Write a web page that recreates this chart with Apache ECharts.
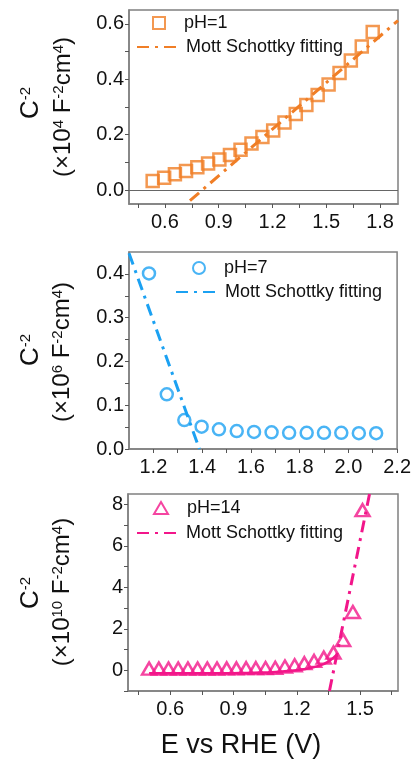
<!DOCTYPE html>
<html><head><meta charset="utf-8">
<script src="https://cdn.jsdelivr.net/npm/echarts@6/dist/echarts.min.js"></script>
<style>html,body{margin:0;padding:0;background:#fff}#c{width:414px;height:769px}</style>
</head><body><div id="c"></div>
<script>
// ---- data ----
const pH1X = [0.532,0.596,0.656,0.718,0.781,0.841,0.904,0.963,1.022,1.083,1.144,1.204,1.267,1.330,1.389,1.452,1.513,1.574,1.637,1.698,1.759];
const pH1Y = [0.033,0.045,0.057,0.069,0.083,0.096,0.111,0.127,0.146,0.168,0.192,0.215,0.244,0.275,0.307,0.343,0.381,0.423,0.468,0.518,0.571];
const fit1X = [0.74, 1.90];
const fit1Y = [-0.038, 0.612];

const pH7X = [1.182,1.255,1.327,1.398,1.469,1.542,1.613,1.685,1.757,1.829,1.900,1.971,2.043,2.114];
const pH7Y = [0.401,0.125,0.066,0.051,0.045,0.041,0.039,0.038,0.037,0.037,0.037,0.037,0.036,0.036];
const fit7X = [1.10, 1.389];
const fit7Y = [0.447, 0.0];

const pH14X = [0.500,0.546,0.592,0.638,0.684,0.730,0.776,0.822,0.868,0.914,0.960,1.006,1.052,1.098,1.144,1.190,1.236,1.282,1.328,1.374,1.420,1.466,1.512];
const pH14Y = [0.08,0.08,0.08,0.08,0.08,0.08,0.08,0.08,0.09,0.09,0.10,0.10,0.11,0.12,0.18,0.24,0.34,0.45,0.61,0.85,1.46,2.81,7.72];
const curve14X = [0.50,0.60,0.70,0.80,0.90,1.00,1.10,1.20,1.25,1.30,1.35,1.39];
const curve14Y = [-0.15,-0.15,-0.15,-0.15,-0.14,-0.12,-0.08,0.00,0.08,0.20,0.42,0.75];
const fit14X = [1.355, 1.545];
const fit14Y = [-1.0, 8.5];

const x1Labels = [0.6,0.9,1.2,1.5,1.8];
const x1Ticks = [0.45,0.6,0.75,0.9,1.05,1.2,1.35,1.5,1.65,1.8];
const y1Labels = [0,0.2,0.4,0.6];
const y1Ticks = [0,0.1,0.2,0.3,0.4,0.5,0.6];
const x2Labels = [1.2,1.4,1.6,1.8,2.0,2.2];
const x2Ticks = [1.2,1.3,1.4,1.5,1.6,1.7,1.8,1.9,2.0,2.1,2.2];
const y2Labels = [0,0.1,0.2,0.3,0.4];
const y2Ticks = [0,0.05,0.1,0.15,0.2,0.25,0.3,0.35,0.4];
const x3Labels = [0.6,0.9,1.2,1.5];
const x3Ticks = [0.45,0.6,0.75,0.9,1.05,1.2,1.35,1.5,1.65];
const y3Labels = [0,2,4,6,8];
const y3Ticks = [-1,0,1,2,3,4,5,6,7,8];

const zip = (a,b) => a.map((v,i)=>[v,b[i]]);
const ORANGE = '#F07E26', BLUE = '#1BA1F2', PINK = '#F2168A';
const FONT = 'Liberation Sans, Arial, sans-serif';
const AX = '#808080';
const FIT = 'Mott Schottky fitting';
const ZW = '\u200b';

function xAxis(g, min, max, labels, ticks, dec) {
  return { type:'value', gridIndex:g, min, max, position:'bottom',
    axisLine:{show:true, onZero:false, lineStyle:{color:AX, width:1.5}},
    axisTick:{show:true, customValues:ticks, length:4, lineStyle:{color:'#555'}},
    axisLabel:{customValues:labels, formatter:v=>v.toFixed(dec), fontSize:20, color:'#111', fontFamily:FONT, margin:8},
    splitLine:{show:false} };
}
function yAxis(g, min, max, labels, ticks, dec) {
  return { type:'value', gridIndex:g, min, max,
    axisLine:{show:true, onZero:false, lineStyle:{color:AX, width:1.5}},
    axisTick:{show:true, customValues:ticks, length:4, lineStyle:{color:'#555'}},
    axisLabel:{customValues:labels, formatter:v=>v.toFixed(dec), fontSize:20, color:'#111', fontFamily:FONT, margin:5},
    splitLine:{show:false} };
}
function fitLine(name, x, y, col, xi) {
  return { name, type:'line', xAxisIndex:xi, yAxisIndex:xi, data:zip(x,y), symbol:'none', silent:true,
    lineStyle:{color:col, width:3, type:[12,6,3,6]}, itemStyle:{color:col}, z:3 };
}
function symLegend(left, top, name, w, h) {
  return { left, top, orient:'vertical', itemWidth:w, itemHeight:h, data:[name],
    selectedMode:false,
    textStyle:{fontSize:18, color:'#111', fontFamily:FONT, padding:[0,0,0,14]} };
}
function lineLegend(left, top, name) {
  return { left, top, orient:'vertical', itemWidth:44, itemHeight:12,
    data:[{name, itemStyle:{opacity:0}}],
    formatter:n=>n.replace(/\u200b/g,''), selectedMode:false,
    textStyle:{fontSize:18, color:'#111', fontFamily:FONT} };
}
function ylab(x, y, txt, size) {
  return { type:'text', x, y, rotation:Math.PI/2,
    style:{ text:txt, align:'center', verticalAlign:'middle', font:size+'px '+FONT, fill:'#111',
      rich:{ s:{fontSize:15, fontFamily:FONT, verticalAlign:'top', fill:'#111'}, n:{fontSize:size+2, fontFamily:FONT, fill:'#111'} } } };
}

const option = {
  animation:false,
  grid:[
    {left:129, top:10, width:269, height:194, show:true, borderColor:AX, borderWidth:1.5},
    {left:129, top:252, width:269, height:197, show:true, borderColor:AX, borderWidth:1.5},
    {left:128, top:494, width:270, height:197, show:true, borderColor:AX, borderWidth:1.5}
  ],
  xAxis:[ xAxis(0,0.4,1.9,x1Labels,x1Ticks,1), xAxis(1,1.1,2.2,x2Labels,x2Ticks,1), xAxis(2,0.4,1.68,x3Labels,x3Ticks,1) ],
  yAxis:[ yAxis(0,-0.05,0.65,y1Labels,y1Ticks,1), yAxis(1,0,0.45,y2Labels,y2Ticks,1), yAxis(2,-1,8.5,y3Labels,y3Ticks,0) ],
  legend:[
    symLegend(147, 9, 'pH=1', 12, 12),
    lineLegend(131, 33, FIT),
    symLegend(187, 254, 'pH=7', 12, 12),
    lineLegend(170, 278, FIT+ZW),
    symLegend(148, 494, 'pH=14', 14, 12),
    lineLegend(131, 519, FIT+ZW+ZW)
  ],
  series:[
    { name:'pH=1', type:'scatter', xAxisIndex:0, yAxisIndex:0, data:zip(pH1X,pH1Y), symbol:'rect', symbolSize:12,
      itemStyle:{color:'rgba(255,255,255,0)', borderColor:ORANGE, borderWidth:2.5}, z:4,
      markLine:{silent:true, symbol:'none', label:{show:false}, lineStyle:{color:'#666', width:1, type:'solid'}, data:[{yAxis:0}]} },
    fitLine(FIT, fit1X, fit1Y, ORANGE, 0),
    { name:'pH=7', type:'scatter', xAxisIndex:1, yAxisIndex:1, data:zip(pH7X,pH7Y), symbol:'circle', symbolSize:12,
      itemStyle:{color:'rgba(255,255,255,0)', borderColor:BLUE, borderWidth:2.5}, z:4 },
    fitLine(FIT+ZW, fit7X, fit7Y, BLUE, 1),
    { name:'pH=14', type:'scatter', xAxisIndex:2, yAxisIndex:2, data:zip(pH14X,pH14Y), symbol:'triangle', symbolSize:[14,12],
      itemStyle:{color:'rgba(255,255,255,0)', borderColor:PINK, borderWidth:2.5}, z:4 },
    { name:'curve14', type:'line', xAxisIndex:2, yAxisIndex:2, data:zip(curve14X,curve14Y), symbol:'none', smooth:true, silent:true,
      lineStyle:{color:PINK, width:2.5}, z:3 },
    fitLine(FIT+ZW+ZW, fit14X, fit14Y, PINK, 2)
  ],
  graphic:[
    ylab(31, 103, '{n|C}{s|-2}', 24),
    ylab(63, 107, '(×10{s|4} F{s|-2}cm{s|4})', 24),
    ylab(31, 350, '{n|C}{s|-2}', 24),
    ylab(62, 352, '(×10{s|6} F{s|-2}cm{s|4})', 24),
    ylab(31, 593, '{n|C}{s|-2}', 24),
    ylab(62, 592, '(×10{s|10} F{s|-2}cm{s|4})', 24),
    { type:'text', x:241, y:746, style:{text:'E vs RHE (V)', align:'center', verticalAlign:'middle', font:'27px '+FONT, fill:'#111'} }
  ]
};
const chart = echarts.init(document.getElementById('c'));
chart.setOption(option);
</script></body></html>
